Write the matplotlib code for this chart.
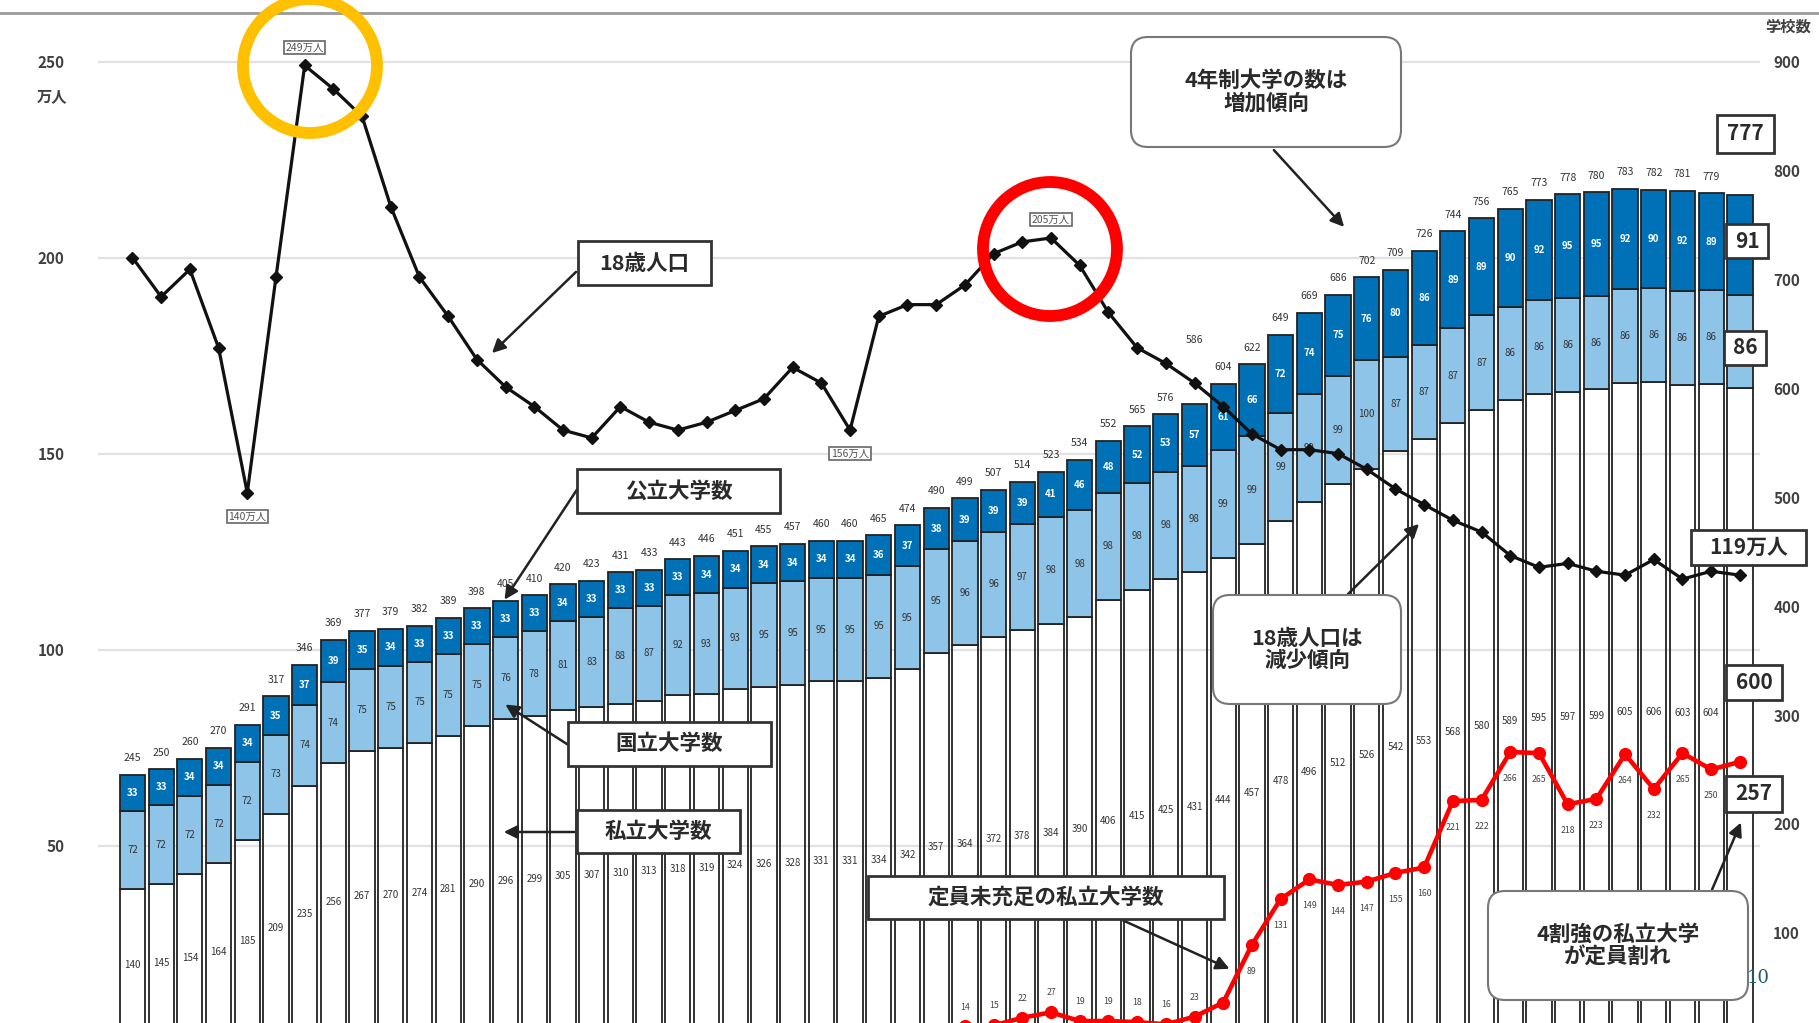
import numpy as np
import matplotlib
matplotlib.use("Agg")
import matplotlib.pyplot as plt
from matplotlib.patches import FancyBboxPatch, FancyArrowPatch, Circle
from matplotlib.lines import Line2D

plt.rcParams['font.family'] = ['Noto Sans CJK JP', 'DejaVu Sans']

# ==========================================
# DATA (1960 - 2016)
# ==========================================
years = list(range(1960, 2017))
private = [140, 145, 154, 164, 185, 209, 235, 256, 267, 270, 274, 281, 290, 296, 299,
           305, 307, 310, 313, 318, 319, 324, 326, 328, 331, 331, 334, 342, 357, 364,
           372, 378, 384, 390, 406, 415, 425, 431, 444, 457, 478, 496, 512, 526, 542,
           553, 568, 580, 589, 595, 597, 599, 605, 606, 603, 604, 600]
national = [72, 72, 72, 72, 72, 73, 74, 74, 75, 75, 75, 75, 75, 76, 78,
            81, 83, 88, 87, 92, 93, 93, 95, 95, 95, 95, 95, 95, 95, 96,
            96, 97, 98, 98, 98, 98, 98, 98, 99, 99, 99, 99, 99, 100, 87,
            87, 87, 87, 86, 86, 86, 86, 86, 86, 86, 86, 86]
public = [33, 33, 34, 34, 34, 35, 37, 39, 35, 34, 33, 33, 33, 33, 33,
          34, 33, 33, 33, 33, 34, 34, 34, 34, 34, 34, 36, 37, 38, 39,
          39, 39, 41, 46, 48, 52, 53, 57, 61, 66, 72, 74, 75, 76, 80,
          86, 89, 89, 90, 92, 95, 95, 92, 90, 92, 89, 91]
# 18歳人口（万人）
pop = [200, 190, 197, 177, 140, 195, 249, 243, 236, 213, 195, 185, 174, 167, 162,
       156, 154, 162, 158, 156, 158, 161, 164, 172, 168, 156, 185, 188, 188, 193,
       201, 204, 205, 198, 186, 177, 173, 168, 162, 155, 151, 151, 150, 146, 141,
       137, 133, 130, 124, 121, 122, 120, 119, 123, 118, 120, 119]
# 定員未充足の私立大学数 (1989 -)
unfilled_start = 1989
unfilled = [14, 15, 22, 27, 19, 19, 18, 16, 23, 36, 89, 131, 149, 144, 147, 155,
            160, 221, 222, 266, 265, 218, 223, 264, 232, 265, 250, 257]
pop_notes = [(1964, 'below'), (1966, 'above'), (1985, 'below'), (1992, 'above')]

left_ticks = [50, 100, 150, 200, 250]
right_ticks = [100, 200, 300, 400, 500, 600, 700, 800, 900]

# ==========================================
# FIGURE
# ==========================================
W, H, DPI = 1819, 1023, 100
DARK = '#0071b6'
LIGHT = '#8ec4e7'
TXT = '#333333'


def inch(px, py):
    return (px / DPI, (H - py) / DPI)


fig = plt.figure(figsize=(W / DPI, H / DPI), dpi=DPI)
fig.patch.set_facecolor('white')
ax = fig.add_axes([98 / W, 0, (1760 - 98) / W, 1])
ax.set_xlim(-1.2, 56.7)
ax.set_ylim(17.2, 956.5)
ax2 = ax.twinx()
ax2.set_ylim(17.2 / 3.6, 956.5 / 3.6)

for a in (ax, ax2):
    for s in a.spines.values():
        s.set_visible(False)
ax.set_xticks([])
ax.yaxis.tick_right()
ax.set_yticks(right_ticks)
ax.tick_params(axis='y', length=0, pad=9.5, labelsize=11, labelcolor='#404040')
ax2.yaxis.tick_left()
ax2.set_yticks(left_ticks)
ax2.tick_params(axis='y', length=0, pad=24, labelsize=11, labelcolor='#404040')
for lab in ax.get_yticklabels() + ax2.get_yticklabels():
    lab.set_fontweight('bold')

for v in left_ticks:
    ax.axhline(v * 3.6, color='#e2e2e2', lw=1.6, zorder=0)

x = np.arange(len(years))
nat_bottom = np.array(private)
pub_bottom = nat_bottom + np.array(national)
ax.bar(x, private, width=0.88, facecolor='none', edgecolor='#222222', lw=1.3, zorder=2)
ax.bar(x, national, bottom=nat_bottom, width=0.88, color=LIGHT, edgecolor='#222222', lw=1.3, zorder=2)
ax.bar(x, public, bottom=pub_bottom, width=0.88, color=DARK, edgecolor='#222222', lw=1.3, zorder=2)

totals = pub_bottom + np.array(public)
total_lift = {37: 46}  # 586 sits higher to clear the population line
for i in range(len(years) - 1):
    ax.text(i, private[i] / 2, str(private[i]), ha='center', va='center', fontsize=7, color=TXT, zorder=3)
    ax.text(i, nat_bottom[i] + national[i] / 2, str(national[i]), ha='center', va='center',
            fontsize=7, color=TXT, zorder=3)
    ax.text(i, pub_bottom[i] + public[i] / 2, str(public[i]), ha='center', va='center',
            fontsize=7, color='white', fontweight='bold', zorder=3)
    ax.annotate(str(totals[i]), (i, totals[i]), xytext=(0, total_lift.get(i, 12)),
                textcoords='offset points', ha='center', va='center', fontsize=7.5,
                color=TXT, zorder=3)

# 定員未充足の私立大学数
ux = np.arange(len(unfilled)) + (unfilled_start - years[0])
ax.plot(ux, unfilled, color='#ff0000', lw=3.3, marker='o', ms=8.5, zorder=5, clip_on=True)
for xi, v in zip(ux[:-1], unfilled[:-1]):
    if xi == 38:
        continue
    dy = 14 if v < 50 else -19
    ax.annotate(str(v), (xi, v), xytext=(0, dy), textcoords='offset points',
                ha='center', va='center', fontsize=6.3, color='#444444', zorder=6,
                annotation_clip=False)

# 18歳人口
ax2.plot(x, pop, color='#111111', lw=2.3, marker='D', ms=6.5, zorder=5)
for yr, side in pop_notes:
    i = yr - years[0]
    dy = 13 if side == 'above' else -17
    ax2.annotate(f'{pop[i]}万人', (i, pop[i]), xytext=(0, dy), textcoords='offset points',
                 ha='center', va='center', fontsize=7.5, color='#555555', zorder=6,
                 bbox=dict(boxstyle='square,pad=0.15', fc='white', ec='#666666', lw=1.2))

# ==========================================
# ANNOTATIONS (figure pixel positions)
# ==========================================
T = fig.dpi_scale_trans


def box(x0, y0, x1, y1, text, size, rounded=False, ec='#333333', lw=2.0, weight='bold'):
    style = 'round,pad=0,rounding_size=0.17' if rounded else 'square,pad=0'
    p0 = inch(x0, y1)
    fig.add_artist(FancyBboxPatch(p0, (x1 - x0) / DPI, (y1 - y0) / DPI, boxstyle=style,
                                  transform=T, fc='white', ec=ec, lw=lw, zorder=8))
    cx, cy = inch((x0 + x1) / 2, (y0 + y1) / 2)
    fig.text(cx, cy, text, transform=T, ha='center', va='center', fontsize=size,
             fontweight=weight, color='#2a2a2a', linespacing=1.1, zorder=9)


def arrow(a, b):
    fig.add_artist(FancyArrowPatch(inch(*a), inch(*b), transform=T, arrowstyle='-|>',
                                   mutation_scale=20, lw=1.8, color='#222222', zorder=7))


arrow((578, 270), (490, 355))
box(578, 241, 711, 285, '18歳人口', 15.5)
arrow((580, 485), (503, 602))
box(577, 469, 780, 513, '公立大学数', 15.5)
arrow((570, 746), (503, 703))
box(568, 722, 771, 766, '国立大学数', 15.5)
arrow((577, 832), (501, 832))
box(577, 810, 740, 853, '私立大学数', 15.5)
arrow((1120, 919), (1232, 970))
box(868, 876, 1224, 919, '定員未充足の私立大学数', 15.5)
arrow((1272, 148), (1346, 229))
box(1131, 37, 1401, 147, '4年制大学の数は\n増加傾向', 15.5, rounded=True, ec='#777777', lw=1.5)
arrow((1346, 596), (1421, 522))
box(1213, 595, 1401, 704, '18歳人口は\n減少傾向', 15.5, rounded=True, ec='#777777', lw=1.5)
arrow((1711, 892), (1742, 820))
box(1488, 891, 1748, 1000, '4割強の私立大学\nが定員割れ', 15.5, rounded=True, ec='#777777', lw=1.5)

box(1717, 115, 1774, 153, str(totals[-1]), 15, weight='semibold')
box(1726, 224, 1768, 258, str(public[-1]), 15, weight='semibold')
box(1724, 331, 1766, 365, str(national[-1]), 15, weight='semibold')
box(1691, 530, 1806, 565, f'{pop[-1]}万人', 15, weight='semibold')
box(1726, 665, 1782, 700, str(private[-1]), 15, weight='semibold')
box(1726, 776, 1782, 812, str(unfilled[-1]), 15, weight='semibold')

# highlight rings
fig.add_artist(Circle(inch(310, 66), 67 / DPI, transform=T, fill=False, ec='#ffc000', lw=8.5, zorder=10))
fig.add_artist(Circle(inch(1050, 249), 67 / DPI, transform=T, fill=False, ec='#ff0000', lw=8.5, zorder=10))

# axis unit labels, header rule, page number
fig.text(*inch(52, 96), '万人', transform=T, ha='center', va='center', fontsize=11,
         fontweight='bold', color='#404040')
fig.text(*inch(1765, 27), '学校数', transform=T, ha='left', va='center', fontsize=11,
         fontweight='bold', color='#404040')
fig.add_artist(Line2D([0, W / DPI], [inch(0, 13)[1]] * 2, transform=T, color='#9a9a9a', lw=2))
fig.text(*inch(1758, 978), '10', transform=T, ha='center', va='center', fontsize=13,
         family='DejaVu Serif', color='#1b5f6d')

fig.savefig('out.png', dpi=DPI)
